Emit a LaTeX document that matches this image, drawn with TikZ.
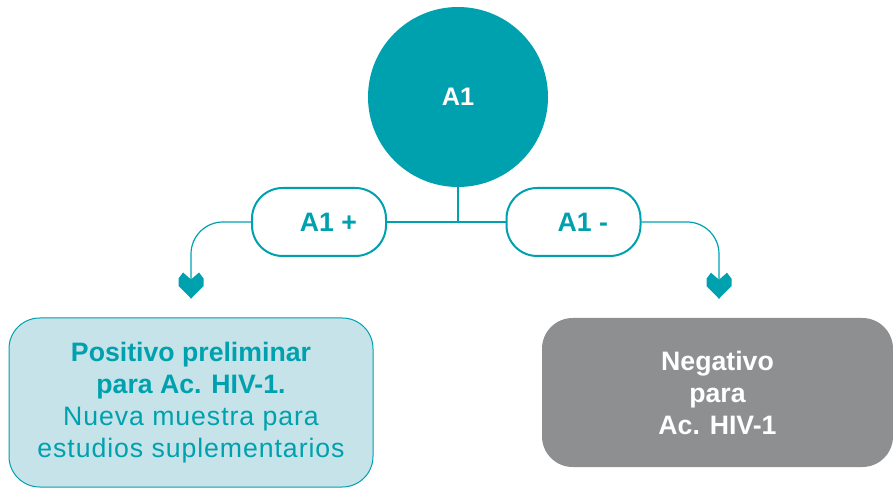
\documentclass[tikz,border=0pt]{standalone}
\usepackage{fontspec}
\setmainfont{Liberation Sans}
\usetikzlibrary{calc, positioning}
\definecolor{hivteal}{HTML}{00A1AE}
\definecolor{hivlight}{HTML}{C5E3E8}
\definecolor{hivgray}{HTML}{8E8F91}

\begin{document}
\begin{tikzpicture}
    [x=0.75pt,y=-0.75pt,
    chevron/.pic={
    \fill[hivteal,sharp corners] (0,0) -- (-12.5,-12.5) -- (-12.5,-20) -- (-8,-26) -- (0,-19) -- (8,-26) -- (12.5,-20) -- (12.5,-12.5) -- cycle;},
    test/.style={circle,minimum size=135pt,fill=hivteal,text=white,font=\fontsize{19}{23}\selectfont\bfseries},
    result/.style={rounded corners=23pt,minimum height=51pt,minimum width=100.5pt,draw=hivteal,line width=1.5pt,fill=white,text=hivteal,font=\fontsize{20}{24}\selectfont\bfseries,execute at begin node=\hspace*{14pt}},
    outcome/.style={rounded corners=23pt,align=center,font=\fontsize{20}{24}\selectfont},
    link/.style={draw=hivteal,line width=0.9pt,rounded corners=24pt}]
\useasboundingbox (0,0) rectangle (893,488);
\node[test] (a1) at (458,97) {A1};
\node[result] (pos) at (319,222) {A1 +};
\node[result] (neg) at (573.5,222) {A1 -};
\node[outcome,minimum width=273pt,minimum height=126.75pt,fill=hivlight,draw=hivteal,line width=0.75pt,text=hivteal] (prel) at (191,402.5)
    {\bfseries Positivo preliminar\\ \bfseries para Ac. HIV-1.\\ \addfontfeatures{LetterSpace=3.5}Nueva muestra para\\ \addfontfeatures{LetterSpace=3.5}estudios suplementarios};
\node[outcome,minimum width=263.25pt,minimum height=111.75pt,fill=hivgray,text=white,font=\fontsize{20}{24}\selectfont\bfseries] (negbox) at (717.5,392.5)
    {Negativo\\ para\\ Ac. HIV-1};
\draw[link,rounded corners=0pt] (a1.south) -- (a1.south |- pos.east);
\draw[link] (pos.east) -- (neg.west);
\coordinate (tipL) at ($(prel.north)+(0,-19)$);
\coordinate (tipR) at ($(negbox.north)+(1.5,-19)$);
\draw[link] (pos.west) -| (tipL) pic{chevron};
\draw[link] (neg.east) -| (tipR) pic{chevron};
\end{tikzpicture}
\end{document}
